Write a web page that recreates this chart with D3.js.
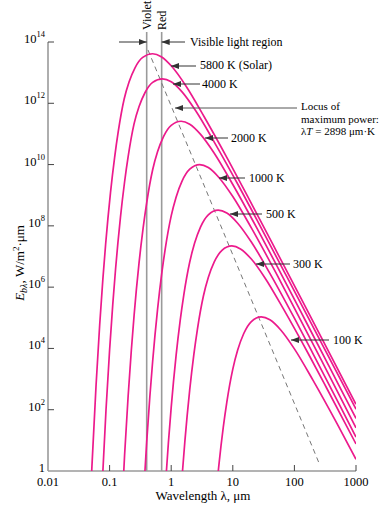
<!DOCTYPE html>
<html>
<head>
<meta charset="utf-8">
<script src="https://cdn.jsdelivr.net/npm/d3@7"></script>
<style>
    html, body { margin: 0; padding: 0; background: #fff; }
    svg { display: block; font-family: "Liberation Serif", "Times New Roman", serif; }
</style>
</head>
<body>
<svg id="chart" width="385" height="507"></svg>
<script>
// wavelength (um) and emissive power
const wl5800 = [0.04828, 0.05172, 0.06034, 0.06897, 0.07759, 0.08621, 0.1034, 0.1207, 0.1379, 0.1724, 0.2069, 0.2586, 0.3448, 0.4997, 0.6897, 1.034, 1.724, 3.448, 8.621, 17.24, 51.72, 172.4, 1000]
const eb5800 = [6.89e-2, 1.50, 656, 5.73e4, 1.73e6, 2.50e7, 1.22e9, 1.73e10, 1.16e11, 1.38e12, 4.94e12, 1.44e13, 3.14e13, 4.13e13, 3.31e13, 1.55e13, 3.74e12, 3.56e11, 1.29e10, 9.53e8, 1.42e7, 1.36e5, 151]
const wl4000 = [0.075, 0.0875, 0.1, 0.1125, 0.125, 0.15, 0.175, 0.2, 0.25, 0.3, 0.375, 0.5, 0.7245, 1.0, 1.5, 2.5, 5, 12.5, 25, 75, 250, 1000]
const eb4000 = [0.234, 102, 8.93e3, 2.70e5, 3.90e6, 1.90e8, 2.70e9, 1.81e10, 2.16e11, 7.66e11, 2.21e12, 4.81e12, 6.30e12, 5.05e12, 2.36e12, 5.70e11, 5.43e10, 2.00e9, 1.48e8, 2.24e6, 2.18e4, 104]
const wl2000 = [0.15, 0.175, 0.2, 0.225, 0.25, 0.3, 0.35, 0.4, 0.5, 0.6, 0.75, 1.0, 1.449, 2.0, 3.0, 5.0, 10, 25, 50, 150, 500, 1000]
const eb2000 = [7.31e-3, 3.20, 279, 8.43e3, 1.22e5, 5.93e6, 8.43e7, 5.65e8, 6.75e9, 2.60e10, 8.17e10, 1.90e11, 2.59e11, 2.08e11, 9.70e10, 2.35e10, 2.24e9, 7.94e7, 5.74e6, 8.30e4, 771, 51.9]
const wl1000 = [0.35, 0.4, 0.45, 0.5, 0.6, 0.7, 0.8, 1.0, 1.2, 1.5, 2.0, 2.898, 4.0, 6.0, 10, 20, 50, 100, 300, 1000]
const eb1000 = [0.1, 8.73, 264, 3.81e3, 1.85e5, 2.64e6, 1.77e7, 2.11e8, 8.65e8, 2.89e9, 7.08e9, 9.98e9, 8.00e9, 3.73e9, 9.04e8, 8.61e7, 2.96e6, 2.08e5, 2.90e3, 25.8]
const wl500 = [0.8, 0.9, 1.0, 1.2, 1.4, 1.6, 2.0, 2.4, 3.0, 4.0, 5.796, 8.0, 12, 20, 40, 100, 200, 600, 1000]
const eb500 = [0.273, 8.24, 119, 5.79e3, 8.24e4, 5.52e5, 6.59e6, 2.74e7, 9.29e7, 2.30e8, 3.27e8, 2.62e8, 1.22e8, 2.96e7, 2.82e6, 9.68e4, 6.82e3, 94.8, 12.8]
const wl300 = [1.333, 1.5, 1.667, 2.0, 2.333, 2.667, 3.333, 4.0, 5.0, 6.667, 9.66, 13.33, 20, 33.33, 66.67, 166.7, 333.3, 1000]
const eb300 = [0.0212, 0.641, 9.27, 451, 6.41e3, 4.30e4, 5.13e5, 2.05e6, 6.65e6, 1.59e7, 2.21e7, 1.77e7, 8.28e6, 2.00e6, 1.91e5, 6.95e3, 512, 7.62]
const wl100 = [5, 6, 7, 8, 10, 12, 15, 20, 28.98, 40, 60, 100, 200, 500, 1000]
const eb100 = [0.0381, 1.85, 26.4, 177, 2.11e3, 8.83e3, 3.01e4, 7.52e4, 1.07e5, 8.57e4, 4.00e4, 9.68e3, 923, 33.2, 2.42]

// locus of maximum power (dashed), ends
const locusWl = [0.42, 251]
const locusEb = [5.5e13, 1.82]

const VIOLET = 0.4
const RED = 0.7

const xTicks = [0.01, 0.1, 1, 10, 100, 1000]
const xTickLabels = ['0.01', '0.1', '1', '10', '100', '1000']
const yTicks = [1, 1e2, 1e4, 1e6, 1e8, 1e10, 1e12, 1e14]
const yTickExps = [0, 2, 4, 6, 8, 10, 12, 14]

const curveLabels = ['5800 K (Solar)', '4000 K', '2000 K', '1000 K', '500 K', '300 K', '100 K']

const CURVE_COLOR = '#ec1a8c'
const AXIS_COLOR = '#9a9a9a'
const TICK_COLOR = '#444'

const series = [
    [wl5800, eb5800], [wl4000, eb4000], [wl2000, eb2000], [wl1000, eb1000],
    [wl500, eb500], [wl300, eb300], [wl100, eb100]
].map(([w, e]) => w.map((v, i) => [v, e[i]]))

const svg = d3.select('#chart')

const x = d3.scaleLog().domain([0.01, 1000]).range([48, 356])
const y = d3.scaleLog().domain([1, 1e14]).range([471, 42])

const defs = svg.append('defs')
defs.append('clipPath').attr('id', 'plot')
    .append('rect')
    .attr('x', x(0.01)).attr('y', 0)
    .attr('width', x(1000) - x(0.01)).attr('height', y(1))

defs.append('marker')
    .attr('id', 'head')
    .attr('viewBox', '0 0 8 6')
    .attr('refX', 8).attr('refY', 3)
    .attr('markerWidth', 8).attr('markerHeight', 6)
    .attr('markerUnits', 'userSpaceOnUse')
    .attr('orient', 'auto')
    .append('path').attr('d', 'M0,0 L8,3 L0,6 Z').attr('fill', '#333')

// visible band lines
svg.selectAll('.band')
    .data([VIOLET, RED])
    .enter().append('line')
    .attr('x1', (d) => x(d)).attr('x2', (d) => x(d))
    .attr('y1', 32).attr('y2', y(1))
    .attr('stroke', AXIS_COLOR)
    .attr('stroke-width', 1.6)

svg.selectAll('.band-label')
    .data([['Violet', VIOLET], ['Red', RED]])
    .enter().append('text')
    .attr('transform', (d) => `translate(${x(d[1]) + 4},30) rotate(-90)`)
    .style('font-size', '12px')
    .text((d) => d[0])

// axes
svg.append('line')
    .attr('x1', x(0.01)).attr('x2', x(0.01))
    .attr('y1', y(1e14)).attr('y2', y(1))
    .attr('stroke', AXIS_COLOR).attr('stroke-width', 1.6)
svg.append('line')
    .attr('x1', x(0.01)).attr('x2', x(1000))
    .attr('y1', y(1)).attr('y2', y(1))
    .attr('stroke', AXIS_COLOR).attr('stroke-width', 1.6)

svg.selectAll('.ytick')
    .data(yTicks.slice(1))
    .enter().append('line')
    .attr('x1', x(0.01)).attr('x2', x(0.01) + 6)
    .attr('y1', (d) => y(d)).attr('y2', (d) => y(d))
    .attr('stroke', TICK_COLOR).attr('stroke-width', 1)

svg.selectAll('.xtick')
    .data(xTicks.slice(1))
    .enter().append('line')
    .attr('x1', (d) => x(d)).attr('x2', (d) => x(d))
    .attr('y1', y(1)).attr('y2', y(1) - 6)
    .attr('stroke', TICK_COLOR).attr('stroke-width', 1)

svg.selectAll('.xlabel')
    .data(xTicks)
    .enter().append('text')
    .attr('x', (d) => x(d))
    .attr('y', 486)
    .attr('text-anchor', 'middle')
    .style('font-size', '12.5px')
    .text((d, i) => xTickLabels[i])

const yLabels = svg.selectAll('.ylabel')
    .data(yTicks)
    .enter().append('text')
    .attr('x', 45)
    .attr('y', (d) => y(d) + 1)
    .attr('text-anchor', 'end')
    .style('font-size', '12.5px')

yLabels.each(function (d, i) {
    const t = d3.select(this)
    const e = yTickExps[i]
    if (e === 0) {
        t.text('1')
        return
    }
    t.append('tspan').text('10')
    t.append('tspan').attr('dy', -6).style('font-size', '8.5px').text(e)
})

// axis titles
svg.append('text')
    .attr('x', 203).attr('y', 500)
    .attr('text-anchor', 'middle')
    .style('font-size', '13px')
    .text('Wavelength λ, μm')

const yTitle = svg.append('text')
    .attr('transform', 'translate(24,263) rotate(-90)')
    .attr('text-anchor', 'middle')
    .style('font-size', '13px')
yTitle.append('tspan').style('font-style', 'italic').text('E')
yTitle.append('tspan').attr('dy', 3).style('font-size', '10px').style('font-style', 'italic').text('bλ')
yTitle.append('tspan').attr('dy', -3).text(', W/m')
yTitle.append('tspan').attr('dy', -5).style('font-size', '9px').text('2')
yTitle.append('tspan').attr('dy', 5).text('·μm')

// curves
const line = d3.line()
    .x((d) => x(d[0]))
    .y((d) => y(d[1]))
    .curve(d3.curveMonotoneX)

const plot = svg.append('g').attr('clip-path', 'url(#plot)')

plot.append('path')
    .datum(locusWl.map((v, i) => [v, locusEb[i]]))
    .attr('d', d3.line().x((d) => x(d[0])).y((d) => y(d[1])))
    .attr('fill', 'none')
    .attr('stroke', '#777')
    .attr('stroke-width', 1)
    .attr('stroke-dasharray', '5,4')

plot.selectAll('.curve')
    .data(series)
    .enter().append('path')
    .attr('d', line)
    .attr('fill', 'none')
    .attr('stroke', CURVE_COLOR)
    .attr('stroke-width', 1.7)

// annotations: [text, text x, baseline, arrow start, arrow tip, arrow y]
const notes = [
    [curveLabels[0], 200, 69, 196, 171, 66],
    [curveLabels[1], 202, 88, 200, 173, 84],
    [curveLabels[2], 231, 142, 228, 205, 138],
    [curveLabels[3], 249, 182, 245, 219, 178],
    [curveLabels[4], 266, 218, 262, 230, 214],
    [curveLabels[5], 293, 268, 290, 256, 264],
    [curveLabels[6], 333, 344, 329, 291, 340]
]

svg.selectAll('.note-arrow')
    .data(notes)
    .enter().append('line')
    .attr('x1', (d) => d[3]).attr('x2', (d) => d[4])
    .attr('y1', (d) => d[5]).attr('y2', (d) => d[5])
    .attr('stroke', '#333').attr('stroke-width', 1)
    .attr('marker-end', 'url(#head)')

svg.selectAll('.note')
    .data(notes)
    .enter().append('text')
    .attr('x', (d) => d[1]).attr('y', (d) => d[2])
    .style('font-size', '12px')
    .text((d) => d[0])

// locus note
svg.append('line')
    .attr('x1', 297).attr('x2', 175)
    .attr('y1', 108).attr('y2', 108)
    .attr('stroke', '#555').attr('stroke-width', 1)
    .attr('marker-end', 'url(#head)')

const locusLines = [['Locus of', 110], ['maximum power:', 122.5]]
svg.selectAll('.locus')
    .data(locusLines)
    .enter().append('text')
    .attr('x', 301).attr('y', (d) => d[1])
    .style('font-size', '11px')
    .text((d) => d[0])

const locusEq = svg.append('text')
    .attr('x', 301).attr('y', 135)
    .style('font-size', '11px')
locusEq.append('tspan').text('λ')
locusEq.append('tspan').style('font-style', 'italic').text('T')
locusEq.append('tspan').text(' = 2898 μm·K')

// visible light region
svg.append('line')
    .attr('x1', 119).attr('x2', x(VIOLET))
    .attr('y1', 42).attr('y2', 42)
    .attr('stroke', '#333').attr('stroke-width', 1)
    .attr('marker-end', 'url(#head)')
svg.append('line')
    .attr('x1', 185).attr('x2', x(RED))
    .attr('y1', 42).attr('y2', 42)
    .attr('stroke', '#333').attr('stroke-width', 1)
    .attr('marker-end', 'url(#head)')
svg.append('text')
    .attr('x', 190).attr('y', 46)
    .style('font-size', '12px')
    .text('Visible light region')
</script>
</body>
</html>
